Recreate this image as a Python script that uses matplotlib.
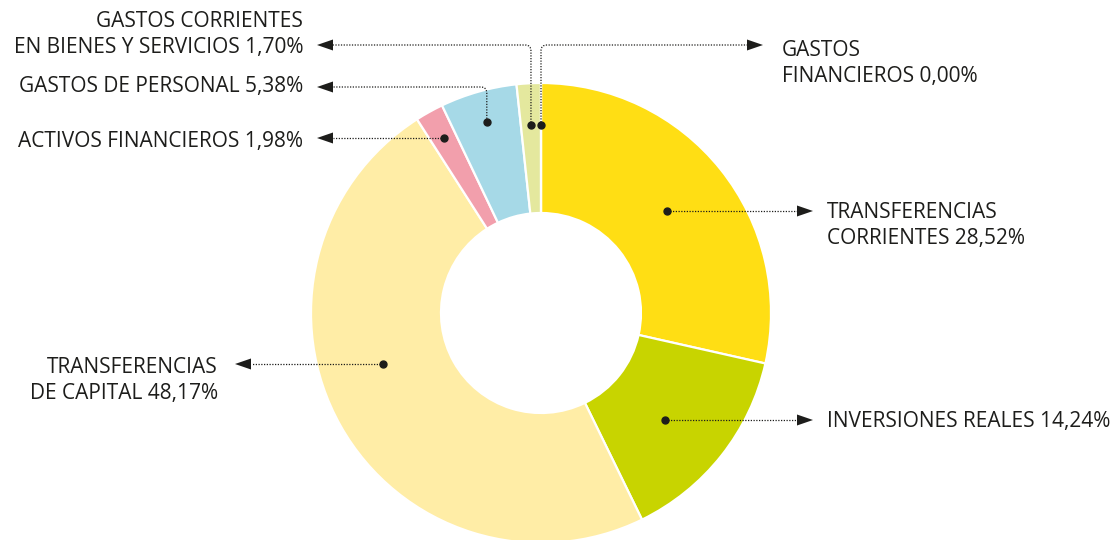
import matplotlib
matplotlib.use('Agg')
import matplotlib.pyplot as plt
import numpy as np
from matplotlib.path import Path
from matplotlib.patches import PathPatch, Polygon

# Datos
labels = ['TRANSFERENCIAS\nCORRIENTES 28,52%',
          'INVERSIONES REALES 14,24%',
          'TRANSFERENCIAS\nDE CAPITAL 48,17%',
          'ACTIVOS FINANCIEROS 1,98%',
          'GASTOS DE PERSONAL 5,38%',
          'GASTOS CORRIENTES\nEN BIENES Y SERVICIOS 1,70%',
          'GASTOS\nFINANCIEROS 0,00%']
values = [28.52, 14.24, 48.17, 1.98, 5.38, 1.70, 0.00]
colors = ['#FFDE14', '#C8D400', '#FFEDA6', '#F29FAC', '#A6D9E7', '#E4E89E', '#E4E89E']

W, H = 1120, 540
cx, cy = 541, H - 313
R, R_in = 230, 100

# Disposición de etiquetas (px, y hacia abajo)
# tipo, lado, y de la guía, radio del punto, punta de flecha, x del texto, línea base
layout = [
    ('h', 1, 211, 162, 813, 827, 218),
    ('h', 1, 420, 164, 813, 827, 427),
    ('h', -1, 364, 166, 235, 218, 373),
    ('h', -1, 138, 200, 317, 303, 147),
    ('v', -1, 87, 199, 317, 303, 92),
    ('v', -1, 45, 188, 317, 303, 27),
    ('v', 1, 45, 188, 763, 782, 56),
]

plt.rcParams['font.family'] = ['Open Sans', 'DejaVu Sans']
ink = '#1d1d1b'

fig = plt.figure(figsize=(W / 100, H / 100), dpi=100)
ax = fig.add_axes([0, 0, 1, 1])
ax.pie(values, colors=colors, startangle=90, counterclock=False,
       radius=R, center=(cx, cy),
       wedgeprops=dict(width=R - R_in, edgecolor='white', linewidth=1.6))
ax.set_xlim(0, W)
ax.set_ylim(0, H)
ax.set_aspect('equal')
ax.axis('off')

total = sum(values)
cum = np.cumsum([0] + values[:-1])
mid = np.radians(90 - 360 * (cum + np.array(values) / 2) / total)


def head(x, side, y):
    L, h = 16, 5.5
    pts = [(x, y), (x - side * L, y + h), (x - side * L, y - h)]
    ax.add_patch(Polygon(pts, closed=True, color=ink, lw=0, zorder=5))


for i, (kind, side, gy, r, tip, tx, base) in enumerate(layout):
    gy = H - gy
    base_end = tip - side * 16
    if kind == 'h':
        dx = np.sqrt(r ** 2 - (gy - cy) ** 2)
        px, py = cx + side * dx, gy
        ax.plot([px, base_end], [gy, gy], color=ink, lw=0.9,
                linestyle=(0, (1, 1.2)), zorder=4)
    else:
        px, py = cx + r * np.cos(mid[i]), cy + r * np.sin(mid[i])
        c = 6
        verts = [(px, py), (px, gy - c), (px, gy), (px + side * c, gy), (base_end, gy)]
        codes = [Path.MOVETO, Path.LINETO, Path.CURVE3, Path.CURVE3, Path.LINETO]
        ax.add_patch(PathPatch(Path(verts, codes), fill=False, ec=ink, lw=0.9,
                               linestyle=(0, (1, 1.2)), zorder=4))
    ax.plot(px, py, 'o', ms=5, color=ink, zorder=6)
    head(tip, side, gy)
    for j, line in enumerate(labels[i].split('\n')):
        ax.text(tx, H - (base + 26 * j), line, ha='left' if side > 0 else 'right',
                va='baseline', fontsize=15, color=ink)

fig.savefig('out.png', dpi=100)
